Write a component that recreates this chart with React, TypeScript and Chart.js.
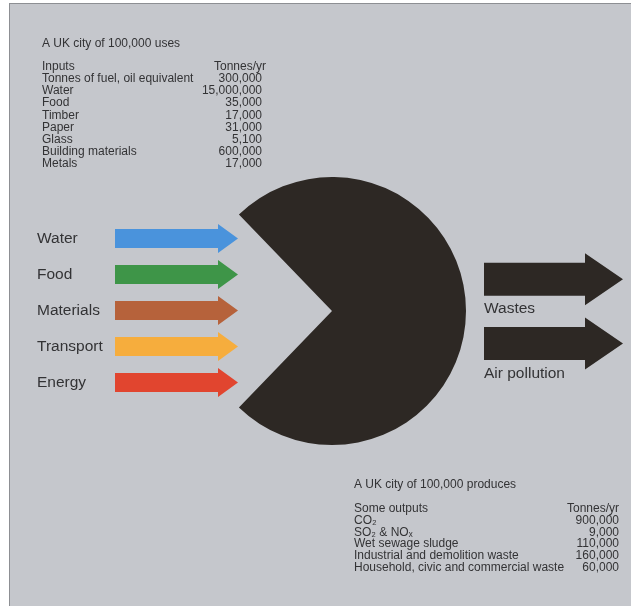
import React, { useEffect, useRef } from "react";
import { Chart, registerables } from "chart.js";

Chart.register(...registerables);

// ---------- data ----------
const inputLabels = ["Water", "Food", "Materials", "Transport", "Energy"];
const inputColors = ["#4a93dc", "#3e9548", "#b6623b", "#f6ad3d", "#e1452f"];
const inputArrowValues = [100, 100, 100, 100, 100];

const outputLabels = ["Wastes", "Air pollution"];
const outputArrowValues = [100, 100];

const pacmanLabels = ["City", "Mouth"];
const pacmanShares = [268, 92];

const usesTitle = "A UK city of 100,000 uses";
const usesHeader = ["Inputs", "Tonnes/yr"];
const usesItems = [
  "Tonnes of fuel, oil equivalent",
  "Water",
  "Food",
  "Timber",
  "Paper",
  "Glass",
  "Building materials",
  "Metals",
];
const usesTonnes = ["300,000", "15,000,000", "35,000", "17,000", "31,000", "5,100", "600,000", "17,000"];

const producesTitle = "A UK city of 100,000 produces";
const producesHeader = ["Some outputs", "Tonnes/yr"];
const producesItems = [
  "CO\u2082",
  "SO\u2082 & NO\u2093",
  "Wet sewage sludge",
  "Industrial and demolition waste",
  "Household, civic and commercial waste",
];
const producesTonnes = ["900,000", "9,000", "110,000", "160,000", "60,000"];

// ---------- styles ----------
const W = 631;
const H = 606;
const FONT = '"Liberation Sans", Arial, Helvetica, sans-serif';
const TEXT = "#333335";
const PANEL = "#c5c7cc";
const DARK = "#2d2824";

function drawArrowShape(ctx: CanvasRenderingContext2D, base: number, tip: number, y: number, bodyHalf: number, headLen: number, headHalf: number, color: string) {
  ctx.save();
  ctx.fillStyle = color;
  ctx.beginPath();
  ctx.moveTo(base, y - bodyHalf);
  ctx.lineTo(tip - headLen, y - bodyHalf);
  ctx.lineTo(tip - headLen, y - headHalf);
  ctx.lineTo(tip, y);
  ctx.lineTo(tip - headLen, y + headHalf);
  ctx.lineTo(tip - headLen, y + bodyHalf);
  ctx.lineTo(base, y + bodyHalf);
  ctx.closePath();
  ctx.fill();
  ctx.restore();
}

const arrowPlugin = {
  id: "arrows",
  beforeDatasetDraw(chart: any, args: any, opts: any) {
    const ds = chart.data.datasets[args.index];
    const ctx = chart.ctx as CanvasRenderingContext2D;
    args.meta.data.forEach((el: any, i: number) => {
      const p = el.getProps(["x", "y", "base", "height"], true);
      const color = Array.isArray(ds.backgroundColor) ? ds.backgroundColor[i] : ds.backgroundColor;
      drawArrowShape(ctx, p.base, p.x, p.y, p.height / 2, opts.headLen, opts.headHalf, color);
      if (opts.labelBelow) {
        ctx.save();
        ctx.fillStyle = TEXT;
        ctx.font = `15.5px ${FONT}`;
        ctx.textAlign = "left";
        ctx.textBaseline = "middle";
        ctx.fillText(String(chart.data.labels[i]), p.base, p.y + opts.labelBelow);
        ctx.restore();
      }
    });
    return false;
  },
};

function drawTable(ctx: CanvasRenderingContext2D, title: string, header: string[], items: string[], values: string[], left: number, headerRight: number, valueRight: number, titleY: number, firstRowY: number, step: number) {
  ctx.save();
  ctx.fillStyle = TEXT;
  ctx.font = `12px ${FONT}`;
  ctx.textBaseline = "middle";
  ctx.textAlign = "left";
  ctx.fillText(title, left, titleY);
  ctx.fillText(header[0], left, firstRowY);
  ctx.textAlign = "right";
  ctx.fillText(header[1], headerRight, firstRowY);
  items.forEach((item, i) => {
    const y = firstRowY + step * (i + 1);
    ctx.textAlign = "left";
    ctx.fillText(item, left, y);
    ctx.textAlign = "right";
    ctx.fillText(values[i], valueRight, y);
  });
  ctx.restore();
}

const panelPlugin = {
  id: "panel",
  beforeDraw(chart: any) {
    const ctx = chart.ctx as CanvasRenderingContext2D;
    ctx.save();
    ctx.fillStyle = PANEL;
    ctx.fillRect(9, 3, W - 9, H - 3);
    ctx.fillStyle = "#8d8f93";
    ctx.fillRect(9, 3, W - 9, 1);
    ctx.fillRect(9, 3, 1, H - 3);
    ctx.restore();
  },
  afterDraw(chart: any) {
    const ctx = chart.ctx as CanvasRenderingContext2D;
    drawTable(ctx, usesTitle, usesHeader, usesItems, usesTonnes, 42, 266, 262, 44, 67, 12.05);
    drawTable(ctx, producesTitle, producesHeader, producesItems, producesTonnes, 354, 619, 619, 485, 509, 11.65);
  },
};

const canvasStyle: React.CSSProperties = { position: "absolute", left: 0, top: 0, display: "block" };

export default function App() {
  const bgRef = useRef<HTMLCanvasElement>(null);
  const pieRef = useRef<HTMLCanvasElement>(null);
  const outRef = useRef<HTMLCanvasElement>(null);

  useEffect(() => {
    const inputs = new Chart(bgRef.current!, {
      type: "bar",
      data: {
        labels: inputLabels,
        datasets: [
          {
            data: inputArrowValues,
            backgroundColor: inputColors,
            barThickness: 19,
          },
        ],
      },
      options: {
        indexAxis: "y",
        responsive: false,
        animation: false,
        events: [],
        layout: { padding: { left: 37, right: W - 238, top: 220.5, bottom: H - 400.5 } },
        scales: {
          x: { display: false, min: 0, max: 100 },
          y: {
            display: true,
            grid: { display: false, drawTicks: false },
            border: { display: false },
            ticks: {
              crossAlign: "far",
              padding: 0,
              color: TEXT,
              font: { family: FONT, size: 15.5 },
            },
            afterFit(scale: any) {
              scale.width = 78;
            },
          },
        },
        plugins: {
          legend: { display: false },
          tooltip: { enabled: false },
          arrows: { headLen: 20, headHalf: 14.5, labelBelow: 0 },
        } as any,
      },
      plugins: [panelPlugin, arrowPlugin],
    } as any);

    const pie = new Chart(pieRef.current!, {
      type: "pie",
      data: {
        labels: pacmanLabels,
        datasets: [
          {
            data: pacmanShares,
            backgroundColor: [DARK, "rgba(0,0,0,0)"],
            borderWidth: 0,
          },
        ],
      },
      options: {
        responsive: false,
        animation: false,
        events: [],
        rotation: 316,
        layout: { padding: { left: 198, right: W - 466, top: 177, bottom: H - 445 } },
        plugins: { legend: { display: false }, tooltip: { enabled: false } },
      },
    } as any);

    const outputs = new Chart(outRef.current!, {
      type: "bar",
      data: {
        labels: outputLabels,
        datasets: [
          {
            data: outputArrowValues,
            backgroundColor: DARK,
            barThickness: 33,
          },
        ],
      },
      options: {
        indexAxis: "y",
        responsive: false,
        animation: false,
        events: [],
        layout: { padding: { left: 484, right: W - 623, top: 247, bottom: H - 375.5 } },
        scales: {
          x: { display: false, min: 0, max: 100 },
          y: { display: false },
        },
        plugins: {
          legend: { display: false },
          tooltip: { enabled: false },
          arrows: { headLen: 38, headHalf: 26, labelBelow: 30 },
        } as any,
      },
      plugins: [arrowPlugin],
    } as any);

    return () => {
      inputs.destroy();
      pie.destroy();
      outputs.destroy();
    };
  }, []);

  return (
    <div style={{ position: "absolute", left: 0, top: 0, width: W, height: H, background: "#ffffff", overflow: "hidden" }}>
      <canvas ref={bgRef} width={W} height={H} style={canvasStyle} />
      <canvas ref={pieRef} width={W} height={H} style={canvasStyle} />
      <canvas ref={outRef} width={W} height={H} style={canvasStyle} />
    </div>
  );
}
